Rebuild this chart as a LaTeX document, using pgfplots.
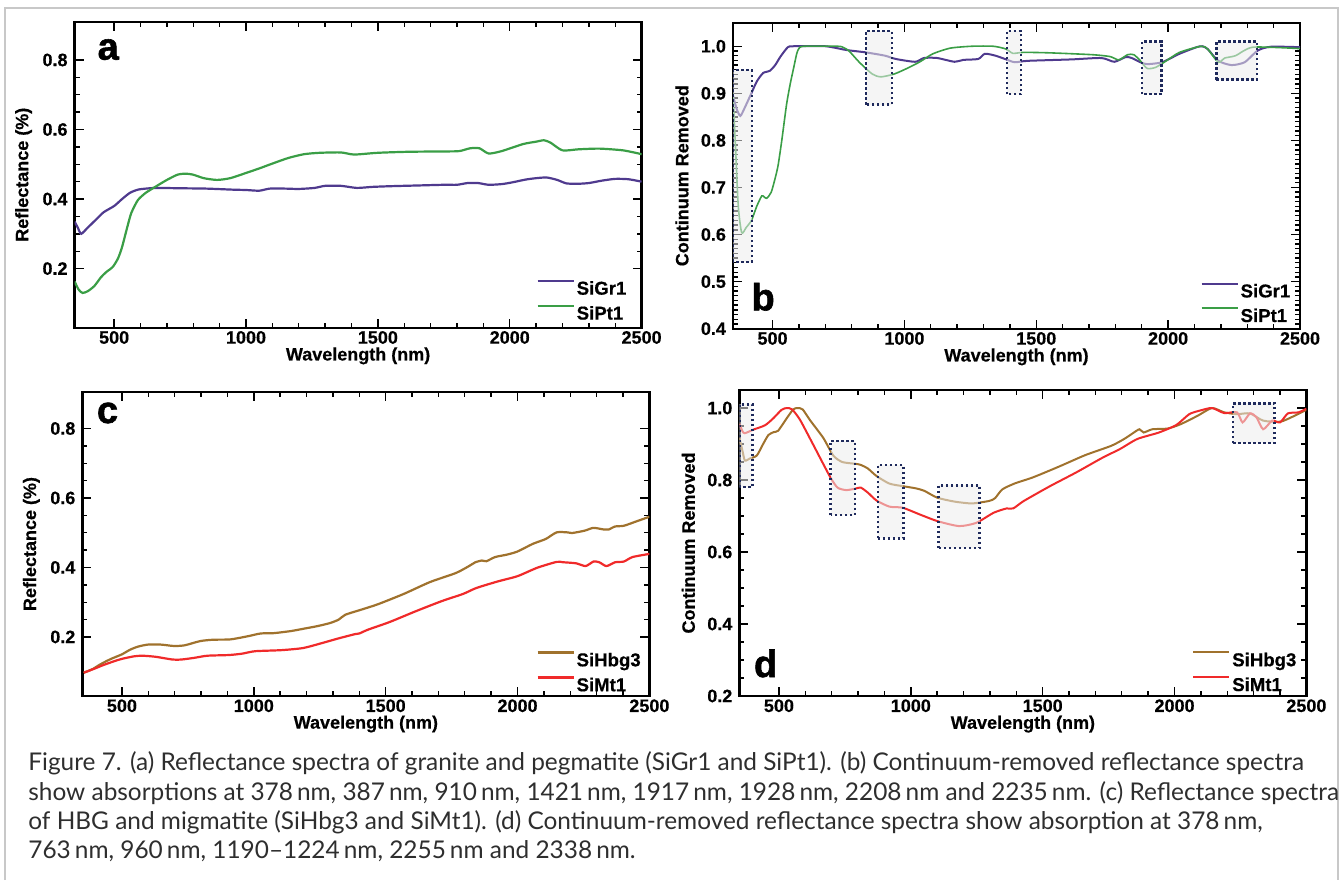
\documentclass[border=0pt]{standalone}
\usepackage{fontspec}
\setmainfont{Liberation Sans}[BoldFeatures={FakeBold=0.5}]
\newfontfamily\lato{Lato}
\newfontfamily\panelfont{Liberation Sans}[BoldFeatures={FakeBold=1.5}]
\usepackage{pgfplots}
\pgfplotsset{compat=1.18}

\definecolor{cgr}{HTML}{4F3A8E}
\definecolor{cpt}{HTML}{3A9E46}
\definecolor{chb}{HTML}{A0722D}
\definecolor{cmt}{HTML}{F02A2A}
\definecolor{boxc}{HTML}{1F2A5C}
\definecolor{frame}{HTML}{C8C8C8}

\tikzset{
  cbox/.style={boxc, line width=1.2pt, dash pattern=on 1.2pt off 1.3pt,
    fill=gray!15, fill opacity=0.55, draw opacity=1},
}

\pgfplotsset{
  spec/.style={
    scale only axis, width=283.5pt, height=153pt, anchor=north west,
    xmin=350, xmax=2500, xtick={500,1000,1500,2000,2500}, minor x tick num=4,
    axis line style={line width=1.2pt},
    tick style={line width=0.7pt, black},
    major tick length=4.5pt, minor tick length=2.5pt,
    tick align=inside,
    scaled ticks=false,
    /pgf/number format/assume math mode=true,
    xticklabel style={/pgf/number format/1000 sep={}, inner sep=1.5pt},
    yticklabel style={/pgf/number format/.cd, fixed, fixed zerofill, precision=1},
    tick label style={font=\fontsize{9}{10}\selectfont\bfseries},
    xlabel={Wavelength (nm)},
    every axis x label/.style={at={(axis description cs:0.5,-0.092)}, anchor=center,
      font=\fontsize{9}{10}\selectfont\bfseries},
    every axis y label/.style={at={(axis description cs:-0.09,0.5)}, anchor=center, rotate=90,
      font=\fontsize{9}{10}\selectfont\bfseries},
    legend style={draw=none, fill=none, inner sep=0pt, row sep=5pt,
      font=\fontsize{9.3}{10}\selectfont\bfseries,
      nodes={inner sep=0pt, text height=7pt, text depth=0pt},
      /tikz/every odd column/.append style={column sep=1pt}},
    legend cell align=left,
    legend image code/.code={\draw[#1] (0pt,3.4pt) -- (18pt,3.4pt);},
    every axis plot/.append style={smooth, tension=0.4},
  },
}

\begin{document}
\begin{tikzpicture}
\useasboundingbox (0,0) rectangle (670.5pt,-440pt);
\draw[frame, line width=1pt] (2.5pt,-440pt) -- (2.5pt,-4pt) -- (668.8pt,-4pt) -- (668.8pt,-440pt);

% (a)
\begin{axis}[spec, at={(37.3pt,-10.85pt)},
  ymin=0.03, ymax=0.91, ytick={0.2,0.4,0.6,0.8}, minor y tick num=3,
  ylabel={Reflectance (\%)},
  legend style={at={(axis description cs:0.814,0.158)}, anchor=north west}]
\addplot[cgr, line width=1.1pt] coordinates {
(350,0.335)(362,0.318)(375,0.300)(400,0.318)(430,0.340)(460,0.362)(500,0.380)
(530,0.400)(560,0.418)(590,0.427)(620,0.430)(660,0.432)(750,0.431)(850,0.430)
(950,0.427)(1000,0.426)(1050,0.424)(1090,0.430)(1150,0.430)(1200,0.429)
(1260,0.432)(1300,0.438)(1360,0.438)(1420,0.432)(1480,0.435)(1550,0.437)
(1650,0.439)(1750,0.441)(1800,0.441)(1840,0.446)(1880,0.446)(1920,0.441)
(1970,0.443)(2010,0.448)(2060,0.456)(2100,0.460)(2140,0.462)(2180,0.455)
(2215,0.445)(2260,0.444)(2300,0.446)(2350,0.453)(2400,0.458)(2450,0.457)(2500,0.450)};
\addlegendentry{SiGr1}
\addplot[cpt, line width=1.1pt] coordinates {
(350,0.163)(365,0.140)(380,0.130)(400,0.135)(425,0.150)(450,0.175)(470,0.190)
(495,0.205)(515,0.230)(530,0.262)(550,0.320)(565,0.360)(590,0.397)(620,0.418)
(660,0.437)(700,0.455)(740,0.470)(770,0.473)(800,0.470)(840,0.460)(890,0.455)
(940,0.460)(1000,0.475)(1050,0.488)(1100,0.502)(1160,0.518)(1220,0.529)
(1280,0.533)(1360,0.534)(1410,0.528)(1500,0.533)(1620,0.536)(1770,0.537)
(1810,0.538)(1850,0.546)(1885,0.546)(1920,0.531)(1970,0.538)(2050,0.558)
(2100,0.565)(2130,0.569)(2155,0.562)(2200,0.540)(2260,0.543)(2340,0.545)
(2430,0.540)(2500,0.529)};
\addlegendentry{SiPt1}
\node[anchor=base west, inner sep=0pt, font=\panelfont\bfseries\fontsize{19}{20}\selectfont]
  at (rel axis cs:0.04,0.876) {a};
\end{axis}

% (b)
\begin{axis}[spec, at={(366.5pt,-11.35pt)},
  ymin=0.4, ymax=1.05, ytick={0.4,0.5,0.6,0.7,0.8,0.9,1.0}, minor y tick num=9,
  ylabel={Continuum Removed},
  legend style={at={(axis description cs:0.824,0.152)}, anchor=north west}]
\addplot[cgr, line width=1pt] coordinates {
(350,0.895)(365,0.865)(378,0.852)(395,0.870)(418,0.898)(440,0.925)(464,0.943)
(490,0.948)(510,0.960)(530,0.978)(558,0.998)(580,1.0)(700,1.0)(780,0.992)
(853,0.987)(926,0.980)(967,0.973)(1041,0.967)(1074,0.975)(1124,0.975)
(1190,0.967)(1223,0.971)(1280,0.973)(1305,0.984)(1345,0.980)(1386,0.972)
(1419,0.966)(1467,0.969)(1632,0.972)(1747,0.975)(1796,0.967)(1839,0.977)
(1862,0.975)(1895,0.966)(1920,0.962)(1977,0.966)(2043,0.984)(2108,0.998)
(2130,1.0)(2150,0.994)(2190,0.969)(2240,0.960)(2290,0.966)(2340,0.991)
(2390,0.999)(2500,0.998)};
\addlegendentry{SiGr1}
\addplot[cpt, line width=0.8pt] coordinates {
(350,0.900)(360,0.780)(370,0.660)(383,0.604)(400,0.615)(420,0.630)(440,0.660)
(459,0.682)(468,0.680)(478,0.677)(495,0.690)(510,0.720)(521,0.747)(535,0.800)
(553,0.876)(567,0.920)(580,0.954)(592,0.985)(601,0.996)(620,1.0)(747,1.0)
(770,0.997)(790,0.990)(829,0.966)(878,0.941)(911,0.935)(961,0.941)(1010,0.953)
(1059,0.967)(1108,0.984)(1174,0.996)(1256,1.0)(1337,1.0)(1386,0.994)
(1411,0.985)(1452,0.987)(1550,0.986)(1714,0.982)(1780,0.978)(1813,0.971)
(1846,0.982)(1870,0.982)(1895,0.969)(1920,0.953)(1952,0.955)(1993,0.969)
(2043,0.987)(2125,1.0)(2150,0.994)(2190,0.966)(2215,0.975)(2256,0.980)
(2322,0.998)(2500,0.995)};
\addlegendentry{SiPt1}
\draw[cbox] (axis cs:350,0.542) rectangle (axis cs:421,0.949);
\draw[cbox] (axis cs:854,0.876) rectangle (axis cs:952,1.032);
\draw[cbox] (axis cs:1388,0.898) rectangle (axis cs:1442,1.032);
\draw[cbox] (axis cs:1901,0.898) rectangle (axis cs:1975,1.010);
\draw[cbox] (axis cs:2183,0.929) rectangle (axis cs:2337,1.010);
\node[anchor=base west, inner sep=0pt, font=\panelfont\bfseries\fontsize{19}{20}\selectfont]
  at (rel axis cs:0.032,0.06) {b};
\end{axis}

% (c)
\begin{axis}[spec, at={(41.2pt,-196pt)}, height=152pt,
  ymin=0.03, ymax=0.905, ytick={0.2,0.4,0.6,0.8}, minor y tick num=3,
  ylabel={Reflectance (\%)},
  legend style={at={(axis description cs:0.800,0.148)}, anchor=north west}]
\addplot[chb, line width=1.1pt] coordinates {
(355,0.097)(390,0.108)(413,0.119)(440,0.130)(462,0.138)(500,0.150)(530,0.163)
(560,0.172)(598,0.178)(648,0.178)(697,0.174)(738,0.176)(796,0.188)(845,0.192)
(911,0.193)(977,0.202)(1026,0.210)(1076,0.211)(1141,0.217)(1191,0.224)
(1240,0.231)(1289,0.240)(1322,0.250)(1347,0.264)(1405,0.278)(1470,0.294)
(1569,0.324)(1668,0.358)(1766,0.384)(1816,0.404)(1840,0.415)(1865,0.420)
(1882,0.418)(1915,0.430)(1960,0.437)(2000,0.446)(2058,0.468)(2107,0.482)
(2148,0.501)(2189,0.501)(2206,0.499)(2255,0.506)(2288,0.514)(2329,0.509)
(2345,0.509)(2370,0.518)(2403,0.520)(2452,0.533)(2500,0.546)};
\addlegendentry{SiHbg3}
\addplot[cmt, line width=1.1pt] coordinates {
(355,0.097)(400,0.110)(429,0.119)(470,0.130)(500,0.137)(544,0.144)(577,0.146)
(627,0.143)(692,0.135)(725,0.135)(775,0.140)(824,0.146)(906,0.148)(956,0.152)
(1005,0.159)(1104,0.162)(1186,0.168)(1252,0.181)(1317,0.195)(1383,0.208)
(1400,0.210)(1433,0.221)(1515,0.243)(1614,0.274)(1712,0.303)(1794,0.324)
(1844,0.341)(1926,0.360)(2000,0.375)(2074,0.399)(2148,0.416)(2173,0.415)
(2222,0.412)(2258,0.404)(2288,0.417)(2310,0.415)(2337,0.404)(2370,0.415)
(2403,0.417)(2436,0.430)(2500,0.439)};
\addlegendentry{SiMt1}
\node[anchor=base west, inner sep=0pt, font=\panelfont\bfseries\fontsize{19}{20}\selectfont]
  at (rel axis cs:0.025,0.898) {c};
\end{axis}

% (d)
\begin{axis}[spec, at={(369.7pt,-195pt)},
  ymin=0.2, ymax=1.05, ytick={0.2,0.4,0.6,0.8,1.0}, minor y tick num=3,
  ylabel={Continuum Removed},
  legend style={at={(axis description cs:0.798,0.147)}, anchor=north west}]
\addplot[chb, line width=1pt] coordinates {
(350,0.917)(362,0.880)(371,0.854)(390,0.860)(416,0.868)(440,0.900)(460,0.925)
(480,0.933)(497,0.937)(529,0.971)(554,0.996)(570,1.0)(590,0.996)(618,0.966)
(668,0.917)(706,0.868)(740,0.850)(790,0.845)(810,0.842)(837,0.832)(870,0.811)
(919,0.790)(969,0.783)(1018,0.777)(1051,0.770)(1100,0.751)(1166,0.740)
(1232,0.735)(1298,0.742)(1320,0.750)(1347,0.774)(1396,0.791)(1462,0.807)
(1561,0.837)(1661,0.869)(1760,0.895)(1809,0.914)(1842,0.930)(1867,0.941)
(1883,0.932)(1916,0.941)(1974,0.943)(2023,0.955)(2089,0.979)(2142,1.0)
(2188,0.988)(2237,0.983)(2286,0.985)(2336,0.965)(2401,0.962)(2451,0.977)(2500,0.995)};
\addlegendentry{SiHbg3}
\addplot[cmt, line width=1pt] coordinates {
(350,0.956)(362,0.935)(371,0.930)(403,0.940)(447,0.952)(478,0.971)(510,0.995)
(530,1.0)(550,0.996)(580,0.967)(630,0.898)(693,0.810)(722,0.779)(755,0.772)
(790,0.776)(810,0.779)(837,0.765)(870,0.743)(919,0.726)(969,0.723)(1035,0.704)
(1100,0.686)(1183,0.672)(1248,0.681)(1314,0.709)(1363,0.721)(1388,0.721)
(1429,0.742)(1528,0.783)(1627,0.821)(1727,0.862)(1793,0.886)(1859,0.914)
(1941,0.932)(2007,0.953)(2056,0.983)(2097,0.993)(2142,1.0)(2188,0.986)
(2237,0.988)(2258,0.960)(2286,0.985)(2310,0.975)(2336,0.941)(2370,0.965)
(2400,0.960)(2430,0.985)(2470,0.988)(2500,0.998)};
\addlegendentry{SiMt1}
\draw[cbox] (axis cs:350,0.780) rectangle (axis cs:399,1.010);
\draw[cbox] (axis cs:696,0.702) rectangle (axis cs:788,0.908);
\draw[cbox] (axis cs:875,0.638) rectangle (axis cs:972,0.841);
\draw[cbox] (axis cs:1105,0.611) rectangle (axis cs:1261,0.785);
\draw[cbox] (axis cs:2222,0.902) rectangle (axis cs:2379,1.013);
\node[anchor=base west, inner sep=0pt, font=\panelfont\bfseries\fontsize{19}{20}\selectfont]
  at (rel axis cs:0.025,0.062) {d};
\end{axis}

% caption
\begin{scope}[every node/.style={anchor=base west, inner sep=0pt, text=black!82,
    font=\lato\fontsize{12.2}{14.5}\selectfont}]
\node at (14pt,-385.3pt) {Figure 7. (a) Reflectance spectra of granite and pegmatite (SiGr1 and SiPt1). (b) Continuum-removed reflectance spectra};
\node at (14pt,-400pt) {show absorptions at 378\,nm, 387\,nm, 910\,nm, 1421\,nm, 1917\,nm, 1928\,nm, 2208\,nm and 2235\,nm. (c) Reflectance spectra};
\node at (14pt,-414.5pt) {of HBG and migmatite (SiHbg3 and SiMt1). (d) Continuum-removed reflectance spectra show absorption at 378\,nm,};
\node at (14pt,-429pt) {763\,nm, 960\,nm, 1190–1224\,nm, 2255\,nm and 2338\,nm.};
\end{scope}
\end{tikzpicture}
\end{document}
